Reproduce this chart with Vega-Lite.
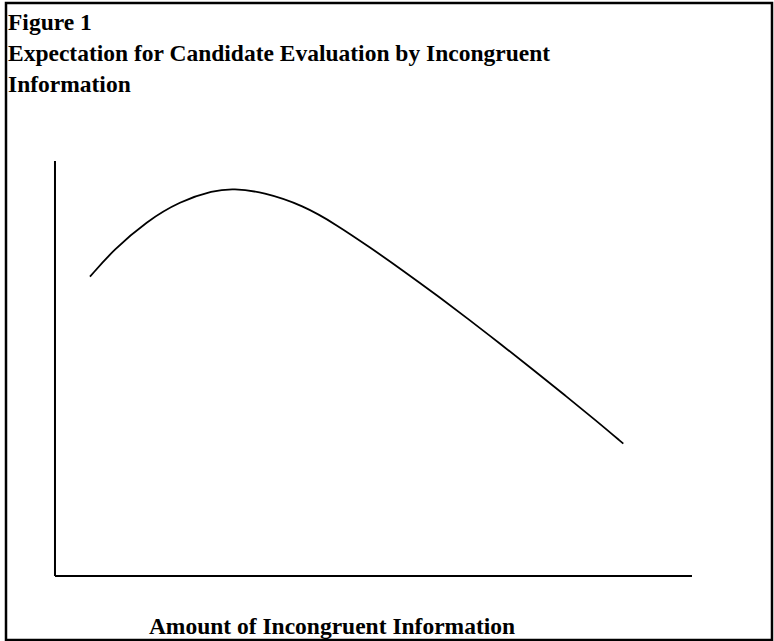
{
  "$schema": "https://vega.github.io/schema/vega-lite/v6.json",
  "width": 766,
  "height": 637,
  "autosize": {"type": "none"},
  "padding": {"left": 6, "top": 3, "right": 2, "bottom": 1},
  "background": "white",
  "config": {"view": {"stroke": "black", "strokeWidth": 2.5}, "font": "Liberation Serif"},
  "title": {
    "text": ["Figure 1", "Expectation for Candidate Evaluation by Incongruent", "Information"],
    "anchor": "start",
    "frame": "group",
    "orient": "top",
    "offset": -93,
    "dx": 2,
    "font": "Liberation Serif, Times New Roman, serif",
    "fontSize": 23.5,
    "fontWeight": "bold",
    "color": "black",
    "lineHeight": 31
  },
  "datasets": {
    "axes": [
      {"x": 0, "y": 0, "x2": 0, "y2": 10},
      {"x": 0, "y": 0, "x2": 10, "y2": 0}
    ],
    "curve": [
      {"amount": 0.549, "evaluation": 7.212},
      {"amount": 0.915, "evaluation": 7.855},
      {"amount": 1.440, "evaluation": 8.55},
      {"amount": 1.962, "evaluation": 9.03},
      {"amount": 2.485, "evaluation": 9.29},
      {"amount": 2.799, "evaluation": 9.34},
      {"amount": 3.270, "evaluation": 9.25},
      {"amount": 3.898, "evaluation": 8.93},
      {"amount": 4.422, "evaluation": 8.46},
      {"amount": 4.945, "evaluation": 7.919},
      {"amount": 5.468, "evaluation": 7.354},
      {"amount": 5.992, "evaluation": 6.767},
      {"amount": 6.515, "evaluation": 6.16},
      {"amount": 7.0, "evaluation": 5.583},
      {"amount": 7.5, "evaluation": 4.978},
      {"amount": 8.0, "evaluation": 4.363},
      {"amount": 8.5, "evaluation": 3.738},
      {"amount": 8.922, "evaluation": 3.19}
    ]
  },
  "layer": [
    {
      "data": {"name": "axes"},
      "mark": {"type": "rule", "color": "black", "strokeWidth": 2},
      "encoding": {
        "x": {
          "field": "x",
          "type": "quantitative",
          "scale": {"domain": [-0.769, 11.256], "nice": false, "zero": false},
          "axis": {
            "domain": false,
            "ticks": false,
            "labels": false,
            "grid": false,
            "title": "Amount of Incongruent Information",
            "titleFont": "Liberation Serif, Times New Roman, serif",
            "titleFontSize": 23.5,
            "titleFontWeight": "bold",
            "titleColor": "black",
            "titleX": 325.5,
            "titleY": -7,
            "titleAlign": "center",
            "titleBaseline": "alphabetic"
          }
        },
        "x2": {"field": "x2"},
        "y": {"field": "y", "type": "quantitative", "scale": {"domain": [-1.542, 13.807], "nice": false, "zero": false}, "axis": null},
        "y2": {"field": "y2"}
      }
    },
    {
      "data": {"name": "curve"},
      "mark": {"type": "line", "color": "black", "strokeWidth": 1.8, "interpolate": "basis"},
      "encoding": {
        "x": {"field": "amount", "type": "quantitative"},
        "y": {"field": "evaluation", "type": "quantitative"}
      }
    }
  ]
}
